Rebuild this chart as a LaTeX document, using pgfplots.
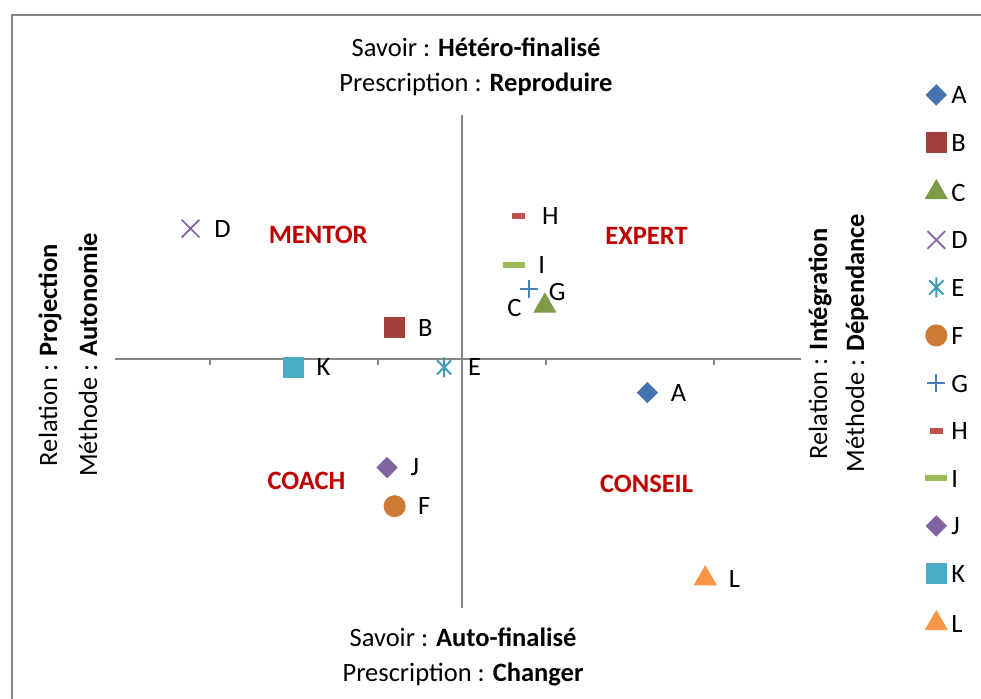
\documentclass[border=0pt]{standalone}
\usepackage{fontspec}
\setmainfont{Carlito}
\usepackage{pgfplots}
\pgfplotsset{compat=1.18}

\definecolor{axgray}{HTML}{868686}
\definecolor{quad}{HTML}{C00000}
\definecolor{cA}{HTML}{4673AE}
\definecolor{cB}{HTML}{A3403C}
\definecolor{cC}{HTML}{7F9B48}
\definecolor{cD}{HTML}{7F5FA1}
\definecolor{cE}{HTML}{3E9BB4}
\definecolor{cF}{HTML}{CF7A34}
\definecolor{cG}{HTML}{4A7EBB}
\definecolor{cH}{HTML}{C0504D}
\definecolor{cI}{HTML}{9BBB59}
\definecolor{cJ}{HTML}{8064A2}
\definecolor{cK}{HTML}{4BACC6}
\definecolor{cL}{HTML}{F79646}

% Excel-like star: vertical bar plus an x
\pgfdeclareplotmark{xstar}{%
  \pgfpathmoveto{\pgfqpoint{0pt}{\pgfplotmarksize}}%
  \pgfpathlineto{\pgfqpoint{0pt}{-\pgfplotmarksize}}%
  \pgfpathmoveto{\pgfqpoint{-.7071\pgfplotmarksize}{-.7071\pgfplotmarksize}}%
  \pgfpathlineto{\pgfqpoint{.7071\pgfplotmarksize}{.7071\pgfplotmarksize}}%
  \pgfpathmoveto{\pgfqpoint{-.7071\pgfplotmarksize}{.7071\pgfplotmarksize}}%
  \pgfpathlineto{\pgfqpoint{.7071\pgfplotmarksize}{-.7071\pgfplotmarksize}}%
  \pgfusepathqstroke}

\tikzset{
  lab/.style={anchor=west, inner sep=0pt, xshift=#1, text=black},
}

\begin{document}
\fontsize{10.6}{12.7}\selectfont
\begin{tikzpicture}
\useasboundingbox (0pt,0pt) rectangle (392.4pt,279.2pt);
% chart frame (right and bottom edges are cut off)
\draw[line width=1.1pt, axgray] (4.8pt,-3pt) -- (4.8pt,273.2pt) -- (396pt,273.2pt);

% titles around the quadrants
\node at (190.4pt,260.4pt) {Savoir : \textbf{Hétéro-finalisé}};
\node at (190.4pt,245.6pt) {Prescription : \textbf{Reproduire}};
\node at (185.2pt,24.4pt) {Savoir : \textbf{Auto-finalisé}};
\node at (185.2pt,9.6pt) {Prescription : \textbf{Changer}};
\node[rotate=90] at (20pt,137.2pt) {Relation : \textbf{Projection}};
\node[rotate=90] at (35.2pt,137.2pt) {Méthode : \textbf{Autonomie}};
\node[rotate=90] at (328pt,141.6pt) {Relation : \textbf{Intégration}};
\node[rotate=90] at (342.8pt,142pt) {Méthode : \textbf{Dépendance}};

\begin{axis}[
  at={(46pt,36pt)}, anchor=south west,
  scale only axis, width=274.4pt, height=197.2pt,
  xmin=-4.13, xmax=4.04, ymin=-2.96, ymax=2.90,
  axis lines=middle,
  axis line style={-, draw=axgray, line width=0.8pt},
  xtick={-3,-1,1,3}, xticklabels={,,,},
  ytick=\empty,
  tick align=outside, major tick length=2.4pt,
  tick style={draw=axgray, line width=0.8pt},
  clip=false,
  nodes near coords, point meta=explicit symbolic,
  every node near coord/.style={lab=9.2pt},
  legend style={at={(1.179,1.061)}, anchor=north west,
    draw=none, fill=none, inner sep=0pt, outer sep=0pt,
    row sep=11.0pt, column sep=1pt,
    nodes={inner sep=0pt, text height=6.9pt, text depth=0pt}},
  legend cell align=left,
  legend image code/.code={%
    \path[draw=none, fill=none] (-5pt,-4pt) rectangle (5pt,4pt);
    \draw[#1] plot coordinates {(0pt,0pt)};},
]
\addplot[only marks, mark=diamond*, mark size=4pt,
  mark options={xscale=1.33, fill=cA, draw=cA}]
  coordinates {(2.21,-0.40) [A]};
\addlegendentry{A}
\addplot[only marks, mark=square*, mark size=4pt,
  mark options={fill=cB, draw=cB}]
  coordinates {(-0.80,0.37) [B]};
\addlegendentry{B}
\addplot[only marks, mark=triangle*, mark size=5pt,
  mark options={fill=cC, draw=cC},
  every node near coord/.style={anchor=east, inner sep=0pt, xshift=-9.2pt, yshift=-1pt, text=black}]
  coordinates {(0.99,0.63) [C]};
\addlegendentry{C}
\addplot[only marks, mark=x, mark size=5pt,
  mark options={draw=cD, line width=0.7pt}]
  coordinates {(-3.23,1.55) [D]};
\addlegendentry{D}
\addplot[only marks, mark=xstar, mark size=4pt,
  mark options={draw=cE, line width=0.8pt}]
  coordinates {(-0.21,-0.10) [E]};
\addlegendentry{E}
\addplot[only marks, mark=*, mark size=4.2pt,
  mark options={fill=cF, draw=cF}]
  coordinates {(-0.80,-1.75) [F]};
\addlegendentry{F}
\addplot[only marks, mark=+, mark size=3.6pt,
  mark options={draw=cG, line width=0.8pt},
  every node near coord/.style={lab=7.6pt, yshift=-1pt}]
  coordinates {(0.80,0.83) [G]};
\addlegendentry{G}
\addplot[only marks, mark=-, mark size=2.6pt,
  mark options={draw=cH, line width=2.4pt},
  every node near coord/.style={lab=8.4pt}]
  coordinates {(0.67,1.70) [H]};
\addlegendentry{H}
\addplot[only marks, mark=-, mark size=4.4pt,
  mark options={draw=cI, line width=2.4pt},
  every node near coord/.style={lab=8.6pt}]
  coordinates {(0.62,1.12) [I]};
\addlegendentry{I}
\addplot[only marks, mark=diamond*, mark size=4pt,
  mark options={xscale=1.33, fill=cJ, draw=cJ}]
  coordinates {(-0.89,-1.29) [J]};
\addlegendentry{J}
\addplot[only marks, mark=square*, mark size=4pt,
  mark options={fill=cK, draw=cK}]
  coordinates {(-2.01,-0.10) [K]};
\addlegendentry{K}
\addplot[only marks, mark=triangle*, mark size=5pt,
  mark options={fill=cL, draw=cL}]
  coordinates {(2.90,-2.61) [L]};
\addlegendentry{L}

% quadrant names
\node[font=\bfseries, text=quad] at (axis cs:-1.71,1.48) {MENTOR};
\node[font=\bfseries, text=quad] at (axis cs:2.20,1.46) {EXPERT};
\node[font=\bfseries, text=quad] at (axis cs:-1.85,-1.45) {COACH};
\node[font=\bfseries, text=quad] at (axis cs:2.20,-1.49) {CONSEIL};
\end{axis}
\end{tikzpicture}
\end{document}
